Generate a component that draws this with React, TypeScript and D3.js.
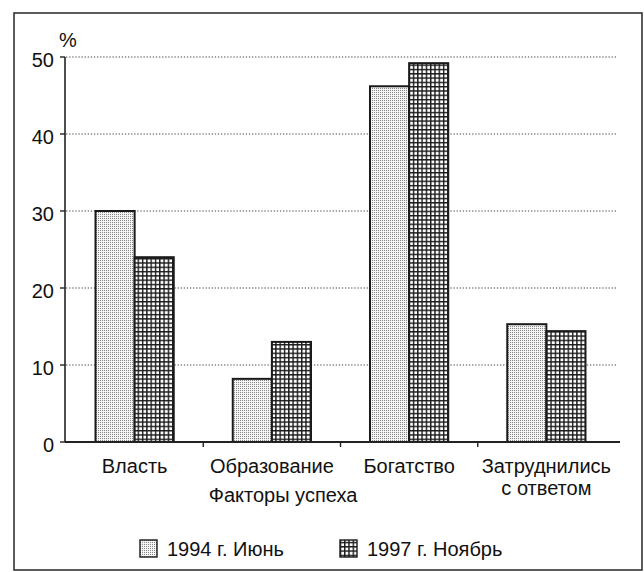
import React from 'react'
import * as d3 from 'd3'

const categories = ['Власть', 'Образование', 'Богатство', 'Затруднились с ответом']
const series = ['1994 г. Июнь', '1997 г. Ноябрь']
const values1994 = [30, 8.2, 46.2, 15.3]
const values1997 = [24, 13, 49.2, 14.4]
const yTicks = [0, 10, 20, 30, 40, 50]
const axisTitle = 'Факторы успеха'

const W = 644
const H = 572
const FONT = '"Liberation Sans", Arial, sans-serif'
const FS = 20

const App = () => {
  const y = d3.scaleLinear().domain([0, 50]).range([442, 57])
  const x = d3
    .scaleBand<string>()
    .domain(categories)
    .range([66, 615])
    .paddingInner(0.43)
    .paddingOuter(0.215)
  const xs = d3.scaleBand<string>().domain(series).range([0, x.bandwidth()])
  const fills = ['url(#dots)', 'url(#grid)']
  const data = [values1994, values1997]
  const step = x.step()
  const bounds = d3.range(1, categories.length).map((i) => 66 + i * step)

  const legendX = [140, 340]

  return (
    <svg
      width={W}
      height={H}
      style={{ position: 'absolute', left: 0, top: 0, background: '#fff' }}
      fontFamily={FONT}
    >
      <defs>
        <pattern id="dots" width={2} height={2} patternUnits="userSpaceOnUse">
          <rect width={2} height={2} fill="#f4f4f4" />
          <rect width={1} height={1} fill="#888" />
        </pattern>
        <pattern id="grid" width={4.3} height={4.3} patternUnits="userSpaceOnUse">
          <rect width={4.3} height={4.3} fill="#fff" />
          <rect width={4.3} height={1.4} fill="#1a1a1a" />
          <rect width={1.4} height={4.3} fill="#1a1a1a" />
        </pattern>
      </defs>

      <rect x={14} y={13} width={628} height={557} fill="none" stroke="#333" strokeWidth={1.6} />

      {/* gridlines */}
      {yTicks.slice(1).map((t) => (
        <line
          key={t}
          x1={66}
          x2={617}
          y1={y(t)}
          y2={y(t)}
          stroke="#444"
          strokeWidth={1.1}
          strokeDasharray="1.3 1.8"
        />
      ))}

      {/* bars */}
      {categories.map((c, ci) =>
        series.map((s, si) => (
          <rect
            key={c + s}
            x={(x(c) ?? 0) + (xs(s) ?? 0)}
            y={y(data[si][ci])}
            width={xs.bandwidth()}
            height={y(0) - y(data[si][ci])}
            fill={fills[si]}
            stroke="#1a1a1a"
            strokeWidth={2}
          />
        ))
      )}

      {/* axes */}
      <line x1={65} x2={65} y1={y(0)} y2={y(50)} stroke="#222" strokeWidth={1.6} />
      <line x1={65} x2={620} y1={y(0)} y2={y(0)} stroke="#222" strokeWidth={1.8} />
      {yTicks.map((t) => (
        <g key={t}>
          <line x1={60} x2={65} y1={y(t)} y2={y(t)} stroke="#222" strokeWidth={1.4} />
          <text x={54} y={y(t) + 10} textAnchor="end" fontSize={FS} fill="#111">
            {t}
          </text>
        </g>
      ))}
      {bounds.map((b) => (
        <line key={b} x1={b} x2={b} y1={y(0)} y2={y(0) + 5} stroke="#222" strokeWidth={1.4} />
      ))}
      <text x={59} y={47} fontSize={FS} fill="#111">
        %
      </text>

      {/* category labels */}
      {categories.map((c) => {
        const cx = (x(c) ?? 0) + x.bandwidth() / 2
        const lines = c === 'Затруднились с ответом' ? ['Затруднились', 'с ответом'] : [c]
        return (
          <text key={c} x={cx} y={473} textAnchor="middle" fontSize={FS} fill="#111">
            {lines.map((l, i) => (
              <tspan key={l} x={cx} dy={i === 0 ? 0 : 22}>
                {l}
              </tspan>
            ))}
          </text>
        )
      })}
      <text x={283} y={502} textAnchor="middle" fontSize={FS} fill="#111">
        {axisTitle}
      </text>

      {/* legend */}
      {series.map((s, i) => (
        <g key={s}>
          <rect
            x={legendX[i]}
            y={540}
            width={17}
            height={17}
            fill={fills[i]}
            stroke="#1a1a1a"
            strokeWidth={1.4}
          />
          <text x={legendX[i] + 27} y={556} fontSize={FS} fill="#111">
            {s}
          </text>
        </g>
      ))}
    </svg>
  )
}

export default App
